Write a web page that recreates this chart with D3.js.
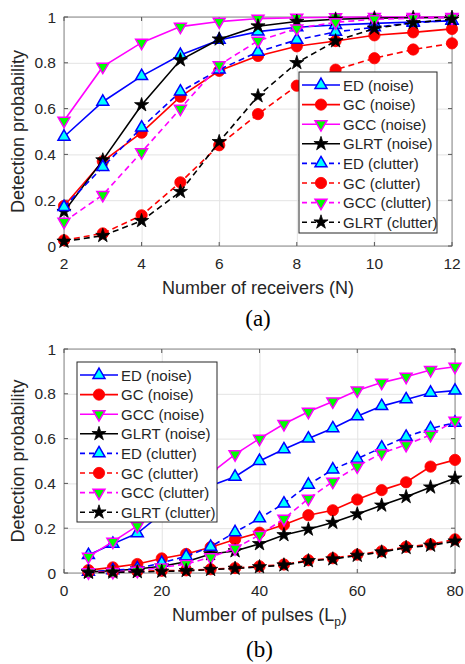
<!DOCTYPE html>
<html>
<head>
<meta charset="utf-8">
<script src="https://cdn.jsdelivr.net/npm/d3@7"></script>
<style>
  body { margin: 0; background: #fff; }
  svg text { font-family: Arial, "Liberation Sans", Helvetica, sans-serif; fill: #262626; }
</style>
</head>
<body>
<div id="chart"></div>
<script>
// x values for each panel
const receivers = [2, 3, 4, 5, 6, 7, 8, 9, 10, 11, 12];
const pulses = [5, 10, 15, 20, 25, 30, 35, 40, 45, 50, 55, 60, 65, 70, 75, 80];

const seriesNames = ['ED (noise)', 'GC (noise)', 'GCC (noise)', 'GLRT (noise)',
  'ED (clutter)', 'GC (clutter)', 'GCC (clutter)', 'GLRT (clutter)'];

// panel (a): detection probability vs number of receivers
const edNoiseA = [0.477, 0.63, 0.742, 0.834, 0.90, 0.936, 0.955, 0.965, 0.972, 0.978, 0.983];
const gcNoiseA = [0.175, 0.37, 0.495, 0.652, 0.765, 0.83, 0.872, 0.895, 0.92, 0.933, 0.948];
const gccNoiseA = [0.547, 0.783, 0.888, 0.958, 0.98, 0.993, 0.997, 0.999, 1.0, 1.0, 1.0];
const glrtNoiseA = [0.15, 0.375, 0.616, 0.812, 0.903, 0.96, 0.98, 0.99, 0.995, 0.997, 0.998];
const edClutterA = [0.17, 0.345, 0.517, 0.674, 0.77, 0.848, 0.90, 0.935, 0.955, 0.975, 0.985];
const gcClutterA = [0.025, 0.055, 0.134, 0.278, 0.44, 0.576, 0.70, 0.77, 0.82, 0.858, 0.885];
const gccClutterA = [0.106, 0.223, 0.41, 0.60, 0.79, 0.896, 0.95, 0.977, 0.99, 0.995, 0.998];
const glrtClutterA = [0.02, 0.045, 0.11, 0.237, 0.455, 0.655, 0.80, 0.895, 0.95, 0.975, 0.99];

// panel (b): detection probability vs number of pulses
const edNoiseB = [0.08, 0.13, 0.177, 0.265, 0.33, 0.39, 0.43, 0.50, 0.552, 0.60, 0.646, 0.70, 0.745, 0.775, 0.805, 0.814];
const gcNoiseB = [0.013, 0.025, 0.04, 0.065, 0.085, 0.115, 0.15, 0.18, 0.215, 0.258, 0.28, 0.328, 0.37, 0.405, 0.475, 0.505];
const gccNoiseB = [0.073, 0.14, 0.21, 0.29, 0.37, 0.445, 0.53, 0.60, 0.665, 0.72, 0.766, 0.815, 0.85, 0.876, 0.906, 0.921];
const glrtNoiseB = [0.005, 0.01, 0.018, 0.03, 0.05, 0.085, 0.098, 0.13, 0.17, 0.195, 0.225, 0.263, 0.302, 0.34, 0.383, 0.423];
const edClutterB = [0.005, 0.012, 0.02, 0.045, 0.075, 0.117, 0.182, 0.244, 0.31, 0.394, 0.462, 0.51, 0.56, 0.608, 0.645, 0.671];
const gcClutterB = [0.004, 0.005, 0.008, 0.01, 0.012, 0.017, 0.022, 0.03, 0.038, 0.057, 0.066, 0.082, 0.097, 0.117, 0.128, 0.15];
const gccClutterB = [0.003, 0.005, 0.01, 0.025, 0.04, 0.07, 0.11, 0.17, 0.242, 0.332, 0.408, 0.476, 0.535, 0.572, 0.617, 0.68];
const glrtClutterB = [0.002, 0.003, 0.005, 0.007, 0.01, 0.015, 0.02, 0.027, 0.035, 0.054, 0.062, 0.078, 0.093, 0.113, 0.123, 0.142];

const yTicks = [0, 0.2, 0.4, 0.6, 0.8, 1];
const xTicksA = [2, 4, 6, 8, 10, 12];
const xTicksB = [0, 20, 40, 60, 80];

// style per series (same order as seriesNames)
const styles = [
  { stroke: '#0000ff', fill: '#00ffff', marker: 'up', dash: null },
  { stroke: '#ff0000', fill: '#ff0000', marker: 'circle', dash: null },
  { stroke: '#ff00ff', fill: '#00ff00', marker: 'down', dash: null },
  { stroke: '#000000', fill: '#000000', marker: 'star', dash: null },
  { stroke: '#0000ff', fill: '#00ffff', marker: 'up', dash: '6,4' },
  { stroke: '#ff0000', fill: '#ff0000', marker: 'circle', dash: '6,4' },
  { stroke: '#ff00ff', fill: '#00ff00', marker: 'down', dash: '6,4' },
  { stroke: '#000000', fill: '#000000', marker: 'star', dash: '6,4' }
];

const width = 465;
const height = 664;

const svg = d3.select('#chart')
  .append('svg')
  .attr('width', width)
  .attr('height', height);

function markerPath(type) {
  if (type === 'circle') return d3.symbol(d3.symbolCircle, 100)();
  if (type === 'star') return d3.symbol(d3.symbolStar, 62)();
  return d3.symbol(d3.symbolTriangle, 62)();
}

function drawMarker(g, type, st, x, y) {
  g.append('path')
    .attr('d', markerPath(type))
    .attr('transform', `translate(${x},${y})` + (type === 'down' ? ' rotate(180)' : ''))
    .attr('fill', st.fill)
    .attr('stroke', st.stroke)
    .attr('stroke-width', type === 'circle' || type === 'star' ? 0.8 : 1.5);
}

function drawPanel(cfg) {
  const area = cfg.area;
  const x = d3.scaleLinear().domain(cfg.xDomain).range([area.left, area.right]);
  const y = d3.scaleLinear().domain([0, 1]).range([area.bottom, area.top]);
  const g = svg.append('g');

  // gridlines
  g.append('g')
    .attr('transform', `translate(0, ${area.bottom})`)
    .call(d3.axisBottom(x).tickValues(cfg.xTicks).tickFormat('').tickSize(-(area.bottom - area.top)))
    .call((s) => s.select('.domain').remove())
    .call((s) => s.selectAll('line').attr('stroke', '#e3e3e3'));
  g.append('g')
    .attr('transform', `translate(${area.left}, 0)`)
    .call(d3.axisLeft(y).tickValues(yTicks).tickFormat('').tickSize(-(area.right - area.left)))
    .call((s) => s.select('.domain').remove())
    .call((s) => s.selectAll('line').attr('stroke', '#e3e3e3'));

  // box
  g.append('rect')
    .attr('x', area.left).attr('y', area.top)
    .attr('width', area.right - area.left).attr('height', area.bottom - area.top)
    .attr('fill', 'none').attr('stroke', '#8a8a8a').attr('stroke-width', 1);

  // inward ticks on all four sides
  const tk = 4;
  cfg.xTicks.forEach((t) => {
    g.append('line').attr('x1', x(t)).attr('x2', x(t)).attr('y1', area.bottom).attr('y2', area.bottom - tk).attr('stroke', '#555');
    g.append('line').attr('x1', x(t)).attr('x2', x(t)).attr('y1', area.top).attr('y2', area.top + tk).attr('stroke', '#555');
  });
  yTicks.forEach((t) => {
    g.append('line').attr('x1', area.left).attr('x2', area.left + tk).attr('y1', y(t)).attr('y2', y(t)).attr('stroke', '#555');
    g.append('line').attr('x1', area.right).attr('x2', area.right - tk).attr('y1', y(t)).attr('y2', y(t)).attr('stroke', '#555');
  });

  // tick labels
  g.selectAll('.xtl').data(cfg.xTicks).join('text')
    .attr('x', (d) => x(d)).attr('y', area.bottom + 23)
    .attr('text-anchor', 'middle').attr('font-size', 15.5)
    .text((d) => d);
  g.selectAll('.ytl').data(yTicks).join('text')
    .attr('x', area.left - 8).attr('y', (d) => y(d) + 5.5)
    .attr('text-anchor', 'end').attr('font-size', 15.5)
    .text((d) => d);

  // axis labels
  const xl = g.append('text')
    .attr('x', (area.left + area.right) / 2).attr('y', area.bottom + 48)
    .attr('text-anchor', 'middle').attr('font-size', 18);
  xl.text(cfg.xLabel);
  if (cfg.xSub) {
    xl.append('tspan').attr('font-size', 12).attr('dy', 5).text(cfg.xSub);
    xl.append('tspan').attr('dy', -5).text(')');
  }
  g.append('text')
    .attr('transform', `translate(24, ${(area.top + area.bottom) / 2}) rotate(-90)`)
    .attr('text-anchor', 'middle').attr('font-size', 18)
    .text('Detection probability');

  // panel caption
  g.append('text')
    .attr('x', (area.left + area.right) / 2).attr('y', cfg.captionY)
    .attr('text-anchor', 'middle').attr('font-size', 23)
    .style('font-family', '"Liberation Serif", "Times New Roman", serif')
    .style('fill', '#000')
    .text(cfg.caption);

  // series
  const line = d3.line().x((d) => x(d[0])).y((d) => y(d[1]));
  cfg.series.forEach((vals, i) => {
    const st = styles[i];
    const pts = cfg.xs.map((xv, j) => [xv, vals[j]]);
    g.append('path')
      .datum(pts)
      .attr('d', line)
      .attr('fill', 'none')
      .attr('stroke', st.stroke)
      .attr('stroke-width', 1.6)
      .attr('stroke-dasharray', st.dash);
    pts.forEach((p) => drawMarker(g, st.marker, st, x(p[0]), y(p[1])));
  });

  // legend
  const lg = cfg.legend;
  const leg = g.append('g');
  leg.append('rect')
    .attr('x', lg.x).attr('y', lg.y).attr('width', lg.w).attr('height', lg.h)
    .attr('fill', '#fff').attr('stroke', '#262626').attr('stroke-width', 1);
  seriesNames.forEach((name, i) => {
    const st = styles[i];
    const cy = lg.y + 13 + i * 19.6;
    leg.append('line')
      .attr('x1', lg.x + 3).attr('x2', lg.x + 41)
      .attr('y1', cy).attr('y2', cy)
      .attr('stroke', st.stroke).attr('stroke-width', 1.6)
      .attr('stroke-dasharray', st.dash ? '5,4' : null);
    drawMarker(leg, st.marker, st, lg.x + 22, cy);
    leg.append('text')
      .attr('x', lg.x + 44).attr('y', cy + 5.5)
      .attr('font-size', 15)
      .text(name);
  });
}

drawPanel({
  area: { left: 64, right: 452, top: 17, bottom: 246 },
  xDomain: [2, 12],
  xTicks: xTicksA,
  xs: receivers,
  series: [edNoiseA, gcNoiseA, gccNoiseA, glrtNoiseA, edClutterA, gcClutterA, gccClutterA, glrtClutterA],
  xLabel: 'Number of receivers (N)',
  caption: '(a)',
  captionY: 326,
  legend: { x: 299, y: 72, w: 138, h: 161 }
});

drawPanel({
  area: { left: 64, right: 455, top: 349, bottom: 573 },
  xDomain: [0, 80],
  xTicks: xTicksB,
  xs: pulses,
  series: [edNoiseB, gcNoiseB, gccNoiseB, glrtNoiseB, edClutterB, gcClutterB, gccClutterB, glrtClutterB],
  xLabel: 'Number of pulses (L',
  xSub: 'p',
  caption: '(b)',
  captionY: 657,
  legend: { x: 77, y: 362, w: 140, h: 160 }
});
</script>
</body>
</html>
